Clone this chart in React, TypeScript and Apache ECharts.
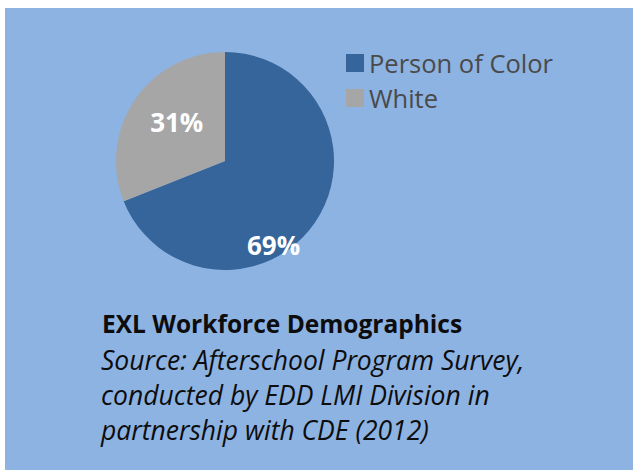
import React, { useEffect, useRef } from "react";
import * as echarts from "echarts";

const categories = ["Person of Color", "White"];
const values = [69, 31];
const colors = ["#35659A", "#A6A6A6"];
const titleText = "EXL Workforce Demographics";
const sourceLines = [
  "Source: Afterschool Program Survey,",
  "conducted by EDD LMI Division in",
  "partnership with CDE (2012)",
];

const FONT = "'Open Sans'";

export default function App() {
  const ref = useRef<HTMLDivElement>(null);
  useEffect(() => {
    if (!ref.current) return;
    const chart = echarts.init(ref.current, null, { renderer: "svg" });
    const cx = 225;
    const cy = 161;
    const r = 109;
    const labelSpots = [
      { ang: -60, frac: 0.89 },
      { ang: 141, frac: 0.57 },
    ];
    chart.setOption({
      animation: false,
      backgroundColor: "#ffffff",
      graphic: [
        {
          type: "rect",
          z: -10,
          shape: { x: 5, y: 8, width: 640, height: 470 },
          style: { fill: "#8DB3E3" },
          silent: true,
        },
        {
          type: "text",
          x: 102,
          y: 323,
          style: {
            text: titleText,
            fill: "#0d0d0d",
            font: `bold 24.5px ${FONT}`,
            verticalAlign: "middle",
          },
        },
        {
          type: "text",
          x: 101,
          y: 342,
          style: {
            text: sourceLines.join("\n"),
            fill: "#0d0d0d",
            font: `italic 26.5px ${FONT}`,
            lineHeight: 35,
            verticalAlign: "top",
          },
        },
      ],
      legend: {
        orient: "vertical",
        left: 346,
        top: 50,
        padding: 0,
        icon: "rect",
        itemWidth: 18,
        itemHeight: 18,
        itemGap: 9,
        data: categories,
        textStyle: { color: "#4a4a4a", fontSize: 25.5, fontFamily: FONT },
      },
      series: [
        {
          type: "pie",
          center: [cx, cy],
          radius: r,
          startAngle: 90,
          clockwise: true,
          data: categories.map((c, i) => ({
            name: c,
            value: values[i],
            itemStyle: { color: colors[i] },
          })),
          label: {
            show: true,
            position: "inside",
            formatter: "{c}%",
            color: "#ffffff",
            fontSize: 26,
            fontWeight: "bold",
            fontFamily: FONT,
          },
          labelLine: { show: false },
          labelLayout: (p: any) => {
            const s = labelSpots[p.dataIndex];
            const a = (s.ang * Math.PI) / 180;
            return {
              x: cx + Math.cos(a) * r * s.frac,
              y: cy - Math.sin(a) * r * s.frac,
              align: "center",
              verticalAlign: "middle",
            };
          },
          emphasis: { disabled: true },
        },
      ],
    });
    return () => chart.dispose();
  }, []);
  return (
    <div
      ref={ref}
      style={{ position: "fixed", left: 0, top: 0, width: 633, height: 470 }}
    />
  );
}
